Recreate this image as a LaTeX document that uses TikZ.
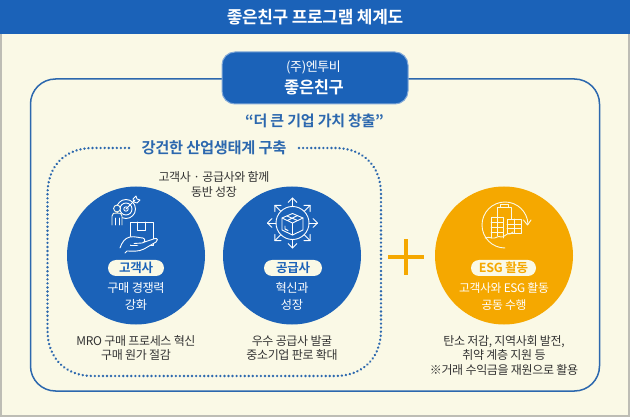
\documentclass[tikz,border=0pt]{standalone}
\usepackage{fontspec}
\setmainfont{Noto Sans CJK KR}
\newfontfamily\krb[LetterSpace=-2]{Noto Sans CJK KR Bold}
\newfontfamily\krn[LetterSpace=-3]{Noto Sans CJK KR}
\definecolor{cream}{HTML}{FAF9E6}
\definecolor{navy}{HTML}{1B62B8}
\definecolor{line}{HTML}{2C68AE}
\definecolor{gold}{HTML}{F5A800}
\definecolor{ink}{HTML}{333333}
\definecolor{edge}{HTML}{BDBDB5}
\tikzset{
  x=1pt,y=-1pt,
  disc/.style={circle,minimum size=138pt,inner sep=0pt},
  pill/.style={rounded corners=8pt,fill=cream,minimum height=16pt,inner sep=0pt,text=navy,font=\krb\fontsize{12.5}{14}\selectfont},
  caption/.style={align=center,text=ink,font=\krn\fontsize{12}{14.5}\selectfont},
  incircle/.style={align=center,text=white,font=\krn\fontsize{12.2}{17}\selectfont},
  icon/.style={draw=white,line width=.9pt,line cap=round,line join=round},
  iconfill/.style={draw=cream,line width=.9pt,line cap=round,line join=round,fill=navy},
}
\begin{document}
\begin{tikzpicture}
\useasboundingbox (0,0) rectangle (630,417);
\fill[cream] (0,0) rectangle (630,417);
\draw[edge,line width=2pt] (1,0) -- (1,416) -- (629,416) -- (629,0);
\fill[navy] (0,0) rectangle (630,34);
\node[text=white,font=\krb\fontsize{17}{20}\selectfont] (title) at (315,17) {좋은친구 프로그램 체계도};

% outer frame
\draw[line,line width=1.5pt,rounded corners=25pt] (30.5,79) rectangle (599.5,391);
\node[draw=navy!55!white,line width=1pt,fill=navy,rounded corners=13pt,minimum width=186pt,minimum height=52pt,inner sep=0pt] (badge) at (315,78) {};
\node[text=white,font=\krn\fontsize{13}{15}\selectfont] (company) at (313.5,67.5) {(주)엔투비};
\node[text=white,font=\krb\fontsize{16.5}{20}\selectfont] (program) at (314,87) {좋은친구};
\node[text=line,font=\krb\fontsize{15}{18}\selectfont] (slogan) at (314.5,121) {“더 큰 기업 가치 창출”};

% dotted frame
\node[text=line,font=\krb\fontsize{15.3}{18}\selectfont] (eco) at (214,148) {강건한 산업생태계 구축};
\draw[line,line width=2.6pt,line cap=round,dash pattern=on 0.05pt off 4pt]
  (129,148) -- (93,148) .. controls (65,148) and (47.5,166) .. (47.5,194)
  -- (47.5,330) .. controls (47.5,358) and (65,376) .. (93,376)
  -- (335,376) .. controls (363,376) and (381,358) .. (381,330)
  -- (381,194) .. controls (381,166) and (363,148) .. (335,148) -- (299,148);
\node[caption] (together) at (214,184.5) {고객사 · 공급사와 함께\\동반 성장};

% discs
\node[disc,fill=navy] (cust) at (136,255.5) {};
\node[disc,fill=navy] (supp) at (292,255.5) {};
\node[disc,fill=gold] (esg) at (504,255.5) {};

\node[pill,minimum width=56pt] (custp) at (136,268) {고객사};
\node[pill,minimum width=58pt] (suppp) at (293,268) {공급사};
\node[pill,minimum width=65pt,text=gold] (esgp) at (503.5,268) {ESG 활동};

\node[incircle] (custt) at (136,296.5) {구매 경쟁력\\강화};
\node[incircle] (suppt) at (292,296.5) {혁신과\\성장};
\node[align=center,text=white,font=\krn\fontsize{11.8}{17}\selectfont] (esgt) at (504,296.5) {고객사와 ESG 활동\\공동 수행};

\node[caption] (custc) at (136,348) {MRO 구매 프로세스 혁신\\구매 원가 절감};
\node[caption] (suppc) at (292,348) {우수 공급사 발굴\\중소기업 판로 확대};
\node[caption] (esgc) at (504,355.5) {탄소 저감, 지역사회 발전,\\취약 계층 지원 등\\※거래 수익금을 재원으로 활용};

% plus
\fill[gold] (388,255) rectangle (424,259);
\fill[gold] (404,239) rectangle (408,275);

% customer icon
\begin{scope}[icon]
  \draw (126,209) circle (9.5);
  \draw (126,209) circle (6);
  \draw (126,209) circle (2.2);
  \draw (126,209) -- (135,200);
  \draw (133,199) -- (136,196) -- (137,199) -- (140,200) -- (137,203) -- (134,202) -- cycle;
  \draw[iconfill,fill=navy] (117,208.5) circle (3.4);
  \draw[iconfill,fill=navy] (112,225) -- (112,216) .. controls (112,213) and (114,213) .. (117,213)
     .. controls (120,213) and (122,213) .. (122,216) -- (122,225);
  \draw (115,218) -- (115,225) (119,218) -- (119,225);
  \draw (130,222) rectangle (153,245);
  \draw (137,222) -- (137,230) -- (145,230) -- (145,222);
  \draw[fill=navy] (120,248) .. controls (122,242) and (125,238) .. (130,237)
     .. controls (134,236) and (140,238) .. (143,238) .. controls (146,239) and (145,243) .. (142,243)
     -- (134,243.5) (143,242.5) -- (155,238.5) .. controls (158,238) and (158,241) .. (156,242)
     -- (144,249) .. controls (138,252) and (133,251) .. (127,251) -- (125,253);
\end{scope}

% supplier icon
\begin{scope}[icon]
  \draw (292.5,223) circle (16.5);
  \foreach \a in {0,45,...,315}{
    \draw ([shift={(\a:16.5)}]292.5,223) -- ([shift={(\a:25)}]292.5,223);
    \draw ([shift={(\a+12:21)}]292.5,223) -- ([shift={(\a:25)}]292.5,223) -- ([shift={(\a-12:21)}]292.5,223);
  }
  \draw (292.5,213.5) -- (303,218) -- (303,230) -- (292.5,235) -- (282,230) -- (282,218) -- cycle;
  \draw (282,218) -- (292.5,223) -- (303,218) (292.5,223) -- (292.5,235);
  \draw (287,216) -- (297.5,220.5) (297.5,215.5) -- (287.5,220.5);
  \draw (285,226) -- (285,229) -- (288,230.5);
\end{scope}

% esg icon
\begin{scope}[draw=cream,line width=.9pt,line cap=round,line join=round]
  \draw (505,248) arc[start angle=90,end angle=358,x radius=23,y radius=23];
  \draw (523.5,220) -- (527.5,225) -- (531,220);
  \draw (497,217) -- (497,207) -- (511,207) -- (511,219);
  \draw (500,207) -- (500,204.5) -- (508,204.5) -- (508,207);
  \draw (491,238) -- (491,217) -- (503,217) -- (503,238);
  \draw (491,222) -- (503,222) (491,227) -- (503,227) (491,232) -- (503,232) (497,217) -- (497,236);
  \draw (507,219) -- (521,219) -- (521,233) -- (507,233) -- cycle;
  \draw (507,224) -- (521,224) (507,228.5) -- (521,228.5) (514,219) -- (514,233);
  \draw (485,238) .. controls (488,236) and (489,238) .. (492,238) .. controls (496,239) and (498,235) .. (501,237)
        .. controls (504,238) and (507,232) .. (510,234) -- (513,232);
\end{scope}
\end{tikzpicture}
\end{document}
